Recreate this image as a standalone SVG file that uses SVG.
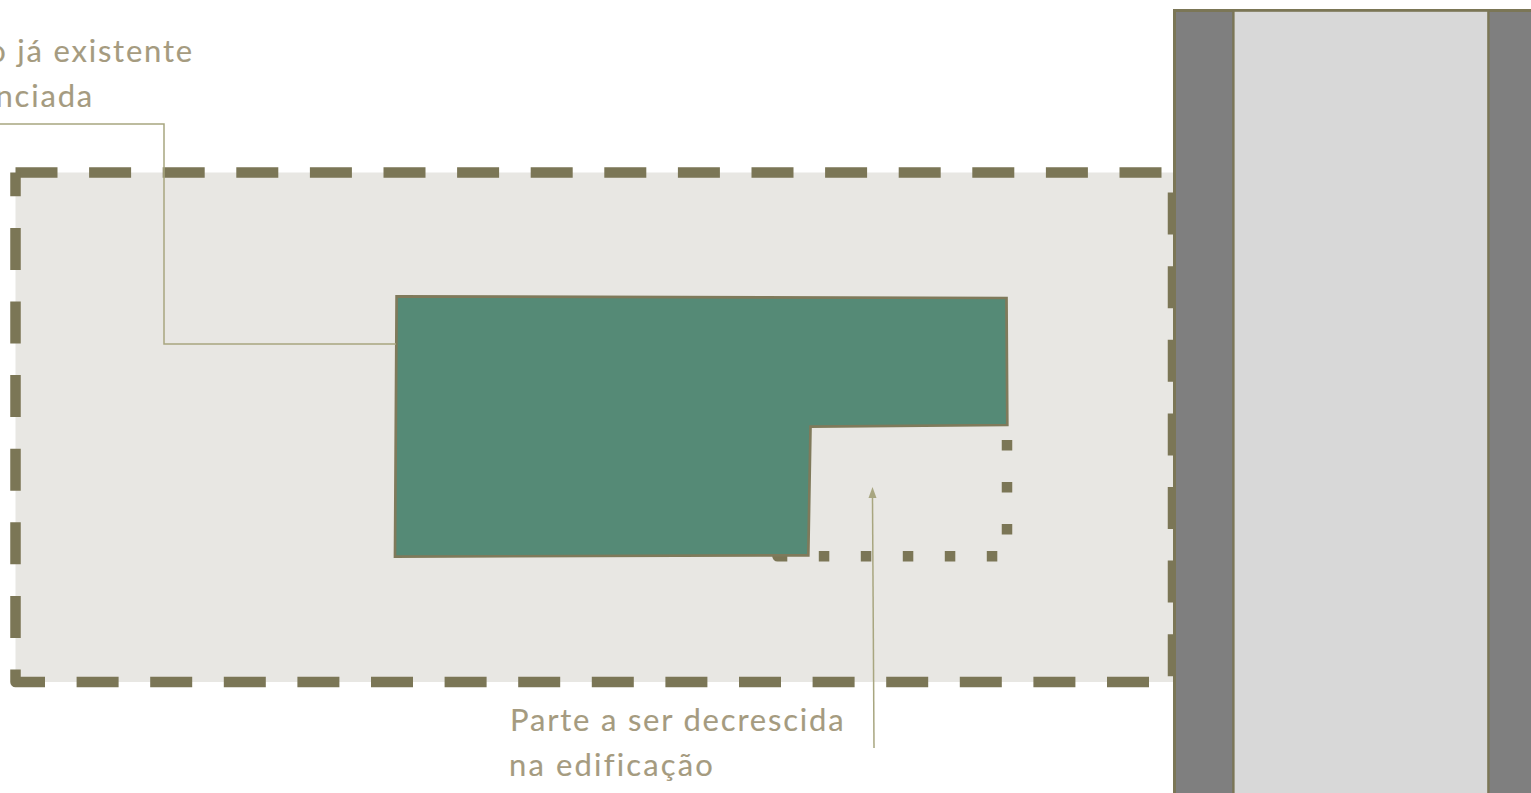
<svg xmlns="http://www.w3.org/2000/svg" width="1531" height="793" viewBox="0 0 1531 793">
<style>
text{font-family:"Lato","Noto Sans",sans-serif;font-size:31px;fill:#A59B80;stroke:#A59B80;stroke-width:.12px;letter-spacing:1.8px}
.leader{fill:none;stroke:#A8A680;stroke-width:1.5}
.road{stroke:#7B7656}
.edge{fill:none;stroke:#7B7656;stroke-width:10.5;stroke-dasharray:42 31.6;stroke-linejoin:round}
</style>
<rect width="1531" height="793" fill="#fff"/>
<g id="lot">
<rect x="15.5" y="172.5" width="1157.5" height="509.5" fill="#E8E7E3"/>
<path class="edge" d="M15.5 172.5H1173V682"/>
<path class="edge" d="M1149 682H15.5V172.5"/>
</g>
<g id="removed-part">
<path d="M1007 440V556.3H777.5V545" fill="none" stroke="#7B7656" stroke-width="10.5" stroke-dasharray="10.5 31.5" stroke-linejoin="round"/>
</g>
<g id="road">
<rect class="road" stroke-width="3" x="1174.5" y="10.5" width="400" height="800" fill="#7F7F7F"/>
<rect class="road" stroke-width="2.4" x="1233.4" y="10.6" width="255" height="800" fill="#D8D8D8"/>
</g>
<g id="building">
<path d="M396.6 296.4L1006.5 298L1007.3 425L810.5 426.6L808.3 555.3L395 556.6Z" fill="#558A76" stroke="#7F7A5B" stroke-width="2.7"/>
</g>
<g id="connectors">
<path class="leader" d="M-2 124H164V344H396"/>
<path class="leader" d="M874 748L872.5 497"/>
<path d="M872.5 487L868.5 498H876.5Z" fill="#A8A680"/>
</g>
<g id="labels">
<text x="194" y="62" text-anchor="end">o já existente</text>
<text x="94" y="107" text-anchor="end">nciada</text>
<text x="510" y="731">Parte a ser decrescida</text>
<text x="509" y="776" style="letter-spacing:2.15px">na edificação</text>
</g>
</svg>
